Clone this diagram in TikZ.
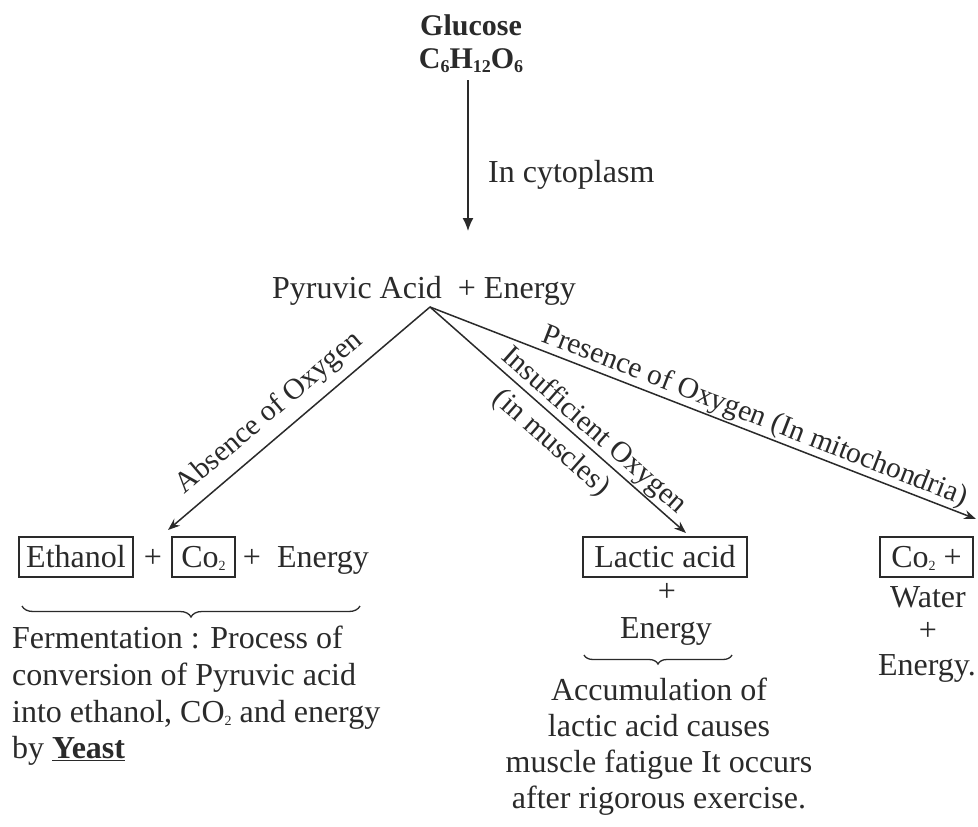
\documentclass[tikz,border=0pt]{standalone}
\usepackage{fontspec}
\setmainfont{Liberation Serif}
\usetikzlibrary{arrows.meta,decorations.pathreplacing}
\definecolor{ink}{HTML}{2A2A2A}
\newcommand{\lsub}[1]{\raisebox{-3pt}{\fontsize{14}{14}\selectfont #1}}
\newcommand{\bsub}[1]{\raisebox{-4pt}{\fontsize{18}{18}\selectfont #1}}
\begin{document}
\begin{tikzpicture}[x=1pt,y=-1pt,
  every node/.style={text=ink, inner sep=0pt},
  main/.style={font=\fontsize{32}{36}\selectfont},
  lab/.style={font=\fontsize{29.5}{34}\selectfont, sloped, inner sep=0pt},
  head/.style={font=\bfseries\fontsize{30}{33}\selectfont},
  box/.style={main, draw=ink, line width=1.4pt, text height=24pt, text depth=4pt, inner ysep=6pt, inner xsep=0pt},
  line/.style={draw=ink, line width=1.5pt},
  toend/.style={line, -{Stealth[length=12pt,width=9pt]}},
  tostart/.style={line, {Stealth[length=12pt,width=9pt]}-},
  bigarrow/.style={line, -{Latex[length=13pt,width=11pt]}},
  brc/.style={draw=ink, line width=1.3pt, decorate, decoration={brace, mirror, amplitude=#1}}]

\fill[white] (0,0) rectangle (978,827);
\useasboundingbox (0,0) rectangle (978,827);

% top
\node[head, anchor=base] (glu) at (471,35) {Glucose};
\node[head, anchor=base] (glf) at (471,68) {C\bsub{6}H\bsub{12}O\bsub{6}};
\coordinate (g0) at (468,80);
\coordinate (g1) at (468,231);
\draw[bigarrow] (g0) -- (g1);
\node[main, anchor=base west] (cyt) at (488,182) {In cytoplasm};

\node[main, anchor=base] (pyr) at (424,298) {Pyruvic Acid~ + Energy};
\coordinate (br) at (430,307);

% bottom left group
\node[box, minimum width=114pt, anchor=base] (eth) at (76,567) {Ethanol};
\node[main, anchor=base] (p1) at (153,567) {+};
\node[box, minimum width=63pt, anchor=base] (co2a) at (203.5,567) {Co\lsub{2}};
\node[main, anchor=base] (p2) at (252,567) {+};
\node[main, anchor=base] (en1) at (323,567) {Energy};
\coordinate (tipL) at (168,530);

\draw[brc=11pt] (22,606) -- (360,606);
\node[main, align=left, anchor=north west, font=\fontsize{32}{36.7}\selectfont] (ferm) at (12,626)
  {Fermentation : Process of\\conversion of Pyruvic acid\\into ethanol, CO\lsub{2} and energy\\by \underline{\textbf{Yeast}}};

% middle group
\node[box, minimum width=164pt, anchor=base] (lac) at (665,567) {Lactic acid};
\node[main, anchor=base] (p3) at (667,601) {+};
\node[main, anchor=base] (en2) at (666,638) {Energy};
\coordinate (tipM) at (686,533);
\draw[brc=9pt] (584,655) -- (732,655);
\node[main, align=center, anchor=north] (acc) at (659,678)
  {Accumulation of\\lactic acid causes\\muscle fatigue It occurs\\after rigorous exercise.};

% right group
\node[box, minimum width=93pt, anchor=base] (co2b) at (926.5,567) {Co\lsub{2} +};
\node[main, anchor=base] (wat) at (928,607) {Water};
\node[main, anchor=base] (p4) at (928,640) {+};
\node[main, anchor=base] (en3) at (927,675) {Energy.};
\coordinate (tipR) at (976,519);

% branches
\draw[tostart] (tipL) -- node[lab, pos=0.445, anchor=south, inner ysep=9pt] {Absence of Oxygen} (br);
\draw[toend] (br) -- node[lab, pos=0.6, anchor=south, inner ysep=1pt] {Insufficient Oxygen}
  node[lab, pos=0.53, anchor=north, inner ysep=8pt] {(in muscles)} (tipM);
\draw[toend] (br) -- node[lab, pos=0.585, anchor=south, inner ysep=1pt] {Presence of Oxygen (In mitochondria)} (tipR);
\end{tikzpicture}
\end{document}
